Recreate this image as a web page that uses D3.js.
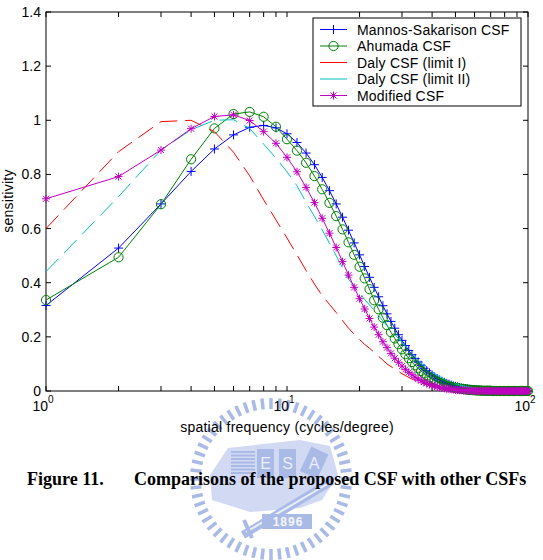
<!DOCTYPE html>
<html lang="en">
<head>
<meta charset="UTF-8">
<title>CSF comparison</title>
<script src="https://cdn.jsdelivr.net/npm/d3@7"></script>
<style>
    body{ margin:0; background:#fff; }
    svg{ display:block; }
    text{ font-family:"Liberation Sans", Arial, sans-serif; }
</style>
</head>
<body>
<svg id="chart" width="543" height="560"></svg>
<script>
// spatial frequency samples (cycles/degree)
var freq = [1,2,3,4,5,6,7,8,9,10,11,12,13,14,15,16,17,18,19,20,
    21,22,23,24,25,26,27,28,29,30,31,32,33,34,35,36,37,38,39,40,
    41,42,43,44,45,46,47,48,49,50,51,52,53,54,55,56,57,58,59,60,
    61,62,63,64,65,66,67,68,69,70,71,72,73,74,75,76,77,78,79,80,
    81,82,83,84,85,86,87,88,89,90,91,92,93,94,95,96,97,98,99,100];

// values
var mannos = [0.316,0.528,0.691,0.811,0.894,0.946,0.974,0.981,0.972,0.950,
    0.918,0.879,0.836,0.789,0.740,0.691,0.642,0.594,0.547,0.503,
    0.460,0.420,0.383,0.348,0.315,0.285,0.257,0.232,0.208,0.187,
    0.168,0.150,0.134,0.120,0.107,0.095,0.084,0.075,0.067,0.059,
    0.052,0.046,0.041,0.036,0.032,0.028,0.025,0.022,0.019,0.017,
    0.015,0.013,0.011,0.010,0.009,0.008,0.007,0.006,0.005,0.004,
    0.004,0.003,0.003,0.003,0.002,0.002,0.002,0.001,0.001,0.001,
    0.001,0.001,0.001,0.001,0,0,0,0,0,0,
    0,0,0,0,0,0,0,0,0,0,0,0,0,0,0,0,0,0,0,0];

var ahumada = [0.336,0.494,0.690,0.856,0.970,1.023,1.031,1.013,0.976,0.930,
    0.888,0.843,0.794,0.745,0.695,0.646,0.597,0.549,0.503,0.459,
    0.416,0.376,0.335,0.302,0.271,0.243,0.217,0.194,0.173,0.154,
    0.136,0.121,0.107,0.095,0.084,0.074,0.065,0.057,0.050,0.044,
    0.039,0.034,0.030,0.026,0.023,0.020,0.017,0.015,0.013,0.011,
    0.010,0.009,0.008,0.007,0.006,0.005,0.004,0.004,0.003,0.003,
    0.002,0.002,0.002,0.001,0.001,0.001,0.001,0.001,0.001,0.001,
    0,0,0,0,0,0,0,0,0,0,
    0,0,0,0,0,0,0,0,0,0,0,0,0,0,0,0,0,0,0,0];

var dalyI = [0.600,0.884,0.995,1.000,0.958,0.882,0.795,0.706,0.632,0.565,
    0.503,0.445,0.395,0.352,0.320,0.290,0.260,0.232,0.210,0.190,
    0.172,0.158,0.143,0.128,0.114,0.100,0.090,0.081,0.072,0.064,
    0.057,0.050,0.044,0.039,0.034,0.030,0.026,0.023,0.020,0.017,
    0.015,0.013,0.011,0.009,0.008,0.007,0.006,0.005,0.004,0.003,
    0.003,0.002,0.002,0.002,0.001,0.001,0.001,0.001,0.001,0.001,
    0,0,0,0,0,0,0,0,0,0,
    0,0,0,0,0,0,0,0,0,0,
    0,0,0,0,0,0,0,0,0,0,0,0,0,0,0,0,0,0,0,0];

var dalyII = [0.441,0.718,0.890,0.965,1.000,1.002,0.970,0.912,0.860,0.810,
    0.758,0.697,0.645,0.595,0.546,0.500,0.455,0.413,0.388,0.363,
    0.338,0.318,0.298,0.278,0.259,0.241,0.225,0.209,0.194,0.180,
    0.166,0.152,0.139,0.126,0.115,0.104,0.095,0.086,0.078,0.071,
    0.064,0.058,0.053,0.048,0.044,0.040,0.036,0.033,0.030,0.027,
    0.025,0.023,0.021,0.019,0.017,0.015,0.014,0.012,0.011,0.010,
    0.009,0.008,0.007,0.006,0.005,0.005,0.004,0.004,0.003,0.003,
    0.002,0.002,0.002,0.002,0.001,0.001,0.001,0.001,0.001,0.001,
    0,0,0,0,0,0,0,0,0,0,0,0,0,0,0,0,0,0,0,0];

var modified = [0.710,0.792,0.890,0.969,1.014,1.020,0.999,0.958,0.915,0.863,
    0.810,0.752,0.696,0.638,0.583,0.530,0.478,0.428,0.383,0.341,
    0.303,0.268,0.236,0.208,0.182,0.160,0.139,0.121,0.106,0.092,
    0.080,0.069,0.060,0.051,0.044,0.038,0.033,0.028,0.024,0.021,
    0.018,0.015,0.013,0.011,0.010,0.008,0.007,0.006,0.005,0.004,
    0.004,0.003,0.003,0.002,0.002,0.002,0.001,0.001,0.001,0.001,
    0,0,0,0,0,0,0,0,0,0,
    0,0,0,0,0,0,0,0,0,0,
    0,0,0,0,0,0,0,0,0,0,0,0,0,0,0,0,0,0,0,0];

var seriesNames = ["Mannos-Sakarison CSF","Ahumada CSF","Daly CSF (limit I)","Daly CSF (limit II)","Modified CSF"];
var yTicks = [0,0.2,0.4,0.6,0.8,1,1.2,1.4];
var xMinor = [2,3,4,5,6,7,8,9,20,30,40,50,60,70,80,90];
var xMajor = [1,10,100];

var series = [
    {name:seriesNames[0], values:mannos,   color:"#0000ff", dash:null,   marker:"plus"},
    {name:seriesNames[1], values:ahumada,  color:"#008000", dash:null,   marker:"circle"},
    {name:seriesNames[2], values:dalyI,    color:"#ff0000", dash:"18,8", marker:null},
    {name:seriesNames[3], values:dalyII,   color:"#00bfbf", dash:"18,8", marker:null},
    {name:seriesNames[4], values:modified, color:"#bf00bf", dash:null,   marker:"star"}
];

var svg = d3.select("#chart");
var pLeft = 46, pRight = 528, pTop = 12, pBottom = 391;

var x = d3.scaleLog().domain([1,100]).range([pLeft,pRight]);
var y = d3.scaleLinear().domain([0,1.4]).range([pBottom,pTop]);

// faint watermark emblem behind the caption
var logo = svg.append("g").attr("opacity",0.75);
var lc = [271,479];
var nt = 56;
var emblem = "#8ea3e0", pale = "#c3cdf0", light = "#e4e9f9";
for (var i = 0; i < nt; i++) {
    var a = i / nt * 2 * Math.PI;
    logo.append("line")
        .attr("x1", lc[0] + 70*Math.cos(a)).attr("y1", lc[1] + 70*Math.sin(a))
        .attr("x2", lc[0] + 81*Math.cos(a)).attr("y2", lc[1] + 81*Math.sin(a))
        .attr("stroke",emblem).attr("stroke-width",3.5);
}
logo.append("path")
    .attr("d","M228,448 L300,440 L330,446 L338,475 L322,500 L300,508 L250,512 L212,500 L210,475 Z")
    .attr("fill",pale);
for (var k = 0; k < 7; k++) {
    logo.append("line").attr("x1",231).attr("x2",255)
        .attr("y1",452 + k*3.5).attr("y2",452 + k*3.5)
        .attr("stroke",emblem).attr("stroke-width",2);
}
logo.append("rect").attr("x",257).attr("y",449).attr("width",17).attr("height",29).attr("fill",emblem);
logo.append("rect").attr("x",279).attr("y",449).attr("width",17).attr("height",29).attr("fill",emblem);
logo.append("rect").attr("x",305).attr("y",449).attr("width",19).attr("height",27).attr("fill",emblem)
    .attr("transform","rotate(25,314,462)");
logo.selectAll("text.ltr").data(["E","S","A"]).join("text")
    .attr("class","ltr")
    .attr("x",function(d,i){ return [265.5,287.5,314][i]; })
    .attr("y",469)
    .attr("text-anchor","middle")
    .attr("fill",light)
    .attr("font-size",16)
    .text(function(d){ return d; });
logo.append("line").attr("x1",243).attr("y1",535).attr("x2",332).attr("y2",481)
    .attr("stroke",emblem).attr("stroke-width",8);
logo.append("line").attr("x1",246).attr("y1",532).attr("x2",329).attr("y2",483)
    .attr("stroke",light).attr("stroke-width",2);
logo.append("path").attr("d","M244,520 L252,538").attr("stroke",emblem).attr("stroke-width",4);
logo.append("rect").attr("x",262).attr("y",514).attr("width",50).attr("height",15).attr("fill",emblem);
logo.append("text").attr("x",288).attr("y",526).attr("text-anchor","middle")
    .attr("fill","#f2f4fc").attr("font-size",12).attr("font-weight","bold")
    .attr("letter-spacing",1).text("1896");

// axes frame and ticks
var g = svg.append("g");
g.append("rect").attr("x",pLeft).attr("y",pTop)
    .attr("width",pRight-pLeft).attr("height",pBottom-pTop)
    .attr("fill","none").attr("stroke","#000").attr("stroke-width",1);

var allX = xMajor.concat(xMinor);
g.selectAll("line.xb").data(allX).join("line").attr("class","xb")
    .attr("x1",function(d){ return x(d); }).attr("x2",function(d){ return x(d); })
    .attr("y1",pBottom).attr("y2",pBottom-5).attr("stroke","#000");
g.selectAll("line.xt").data(allX).join("line").attr("class","xt")
    .attr("x1",function(d){ return x(d); }).attr("x2",function(d){ return x(d); })
    .attr("y1",pTop).attr("y2",pTop+5).attr("stroke","#000");
g.selectAll("line.yl").data(yTicks).join("line").attr("class","yl")
    .attr("x1",pLeft).attr("x2",pLeft+5)
    .attr("y1",function(d){ return y(d); }).attr("y2",function(d){ return y(d); })
    .attr("stroke","#000");
g.selectAll("line.yr").data(yTicks).join("line").attr("class","yr")
    .attr("x1",pRight).attr("x2",pRight-5)
    .attr("y1",function(d){ return y(d); }).attr("y2",function(d){ return y(d); })
    .attr("stroke","#000");

g.selectAll("text.yt").data(yTicks).join("text").attr("class","yt")
    .attr("x",pLeft-5).attr("y",function(d){ return y(d) + 5; })
    .attr("text-anchor","end").attr("font-size",14)
    .text(function(d){ return d; });

var xl = g.selectAll("text.xtl").data(xMajor).join("text").attr("class","xtl")
    .attr("x",function(d){ return x(d) - 3; }).attr("y",411)
    .attr("text-anchor","middle").attr("font-size",14);
xl.append("tspan").text("10");
xl.append("tspan").attr("dy",-8).attr("font-size",10)
    .text(function(d){ return Math.round(Math.log10(d)); });

g.append("text").attr("x",(pLeft+pRight)/2).attr("y",432)
    .attr("text-anchor","middle").attr("font-size",14).attr("letter-spacing",0.25)
    .text("spatial frequency (cycles/degree)");
g.append("text").attr("transform","translate(13,201) rotate(-90)")
    .attr("text-anchor","middle").attr("font-size",14).attr("letter-spacing",0.25)
    .text("sensitivity");

// curves
var line = d3.line()
    .x(function(d){ return x(d[0]); })
    .y(function(d){ return y(d[1]); });

var markerPath = {
    plus: "M-4.5,0H4.5M0,-4.5V4.5",
    star: "M-4,0H4M0,-4V4M-3,-3L3,3M-3,3L3,-3"
};

function drawMarker(sel, m, color) {
    if (m === "circle") {
        sel.append("circle").attr("r",4.6).attr("fill","none")
            .attr("stroke",color).attr("stroke-width",1);
    } else {
        sel.append("path").attr("d",markerPath[m]).attr("fill","none")
            .attr("stroke",color).attr("stroke-width",1);
    }
}

series.forEach(function(s){
    var pts = freq.map(function(f,i){ return [f, s.values[i]]; });
    var sg = g.append("g");
    sg.append("path").attr("d",line(pts))
        .attr("fill","none").attr("stroke",s.color).attr("stroke-width",1)
        .attr("stroke-dasharray",s.dash);
    if (s.marker) {
        sg.selectAll("g.m").data(pts).join("g").attr("class","m")
            .attr("transform",function(d){ return "translate(" + x(d[0]) + "," + y(d[1]) + ")"; })
            .each(function(){ drawMarker(d3.select(this), s.marker, s.color); });
    }
});

// legend
var lg = g.append("g");
lg.append("rect").attr("x",313).attr("y",18).attr("width",208).attr("height",88)
    .attr("fill","#fff").attr("stroke","#000").attr("stroke-width",1);
series.forEach(function(s,i){
    var ly = 29.5 + i*16.5;
    lg.append("line").attr("x1",320).attr("x2",347).attr("y1",ly).attr("y2",ly)
        .attr("stroke",s.color).attr("stroke-width",1);
    if (s.marker) {
        drawMarker(lg.append("g").attr("transform","translate(333.5," + ly + ")"), s.marker, s.color);
    }
    lg.append("text").attr("x",357).attr("y",ly + 5).attr("font-size",14)
        .attr("letter-spacing",0.2).text(s.name);
});

// caption
var cap = svg.append("g").attr("font-weight","bold").attr("font-size",18);
cap.append("text").attr("x",27).attr("y",485).style("font-family","'Liberation Serif',serif").text("Figure 11.");
cap.append("text").attr("x",134).attr("y",485).style("font-family","'Liberation Serif',serif")
    .text("Comparisons of the proposed CSF with other CSFs");
</script>
</body>
</html>
